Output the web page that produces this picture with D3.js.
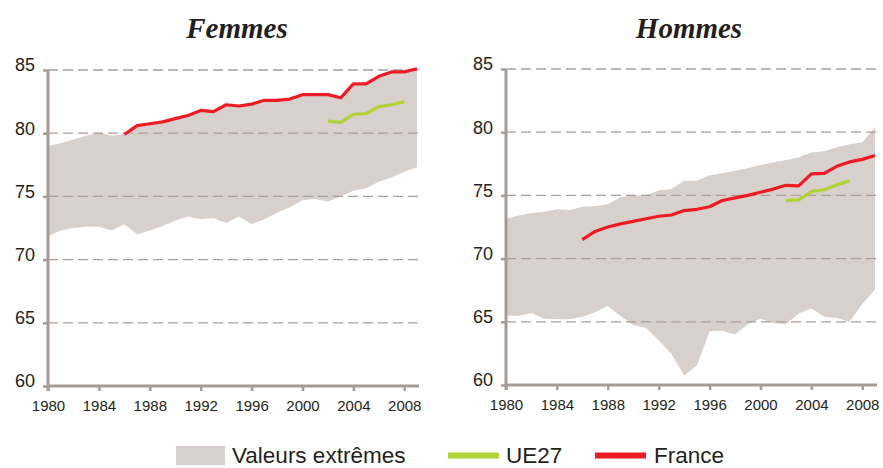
<!DOCTYPE html>
<html><head><meta charset="utf-8">
<script src="https://cdn.jsdelivr.net/npm/d3@7"></script>
<style>body{margin:0;background:#fff}svg{display:block}</style>
</head><body>
<svg id="c" width="883" height="468"></svg>
<script>
const years = [1980,1981,1982,1983,1984,1985,1986,1987,1988,1989,1990,1991,1992,1993,1994,1995,1996,1997,1998,1999,2000,2001,2002,2003,2004,2005,2006,2007,2008,2009];
const franceYears = years.slice(6);            // 1986-2009
const ueYearsF = [2002,2003,2004,2005,2006,2007,2008];
const ueYearsH = [2002,2003,2004,2005,2006,2007];
const xTicks = [1980,1984,1988,1992,1996,2000,2004,2008];
const yTicks = [60,65,70,75,80,85];

const femmesMax = [79.0,79.2,79.5,79.8,80.05,79.8,79.95,80.6,80.75,80.9,81.15,81.4,81.8,81.7,82.25,82.15,82.3,82.6,82.6,82.7,83.05,83.05,83.05,82.8,83.9,83.9,84.5,84.85,84.85,85.1];
const femmesMin = [71.85,72.3,72.5,72.6,72.6,72.3,72.8,72.0,72.3,72.65,73.1,73.4,73.2,73.3,72.9,73.4,72.8,73.2,73.7,74.15,74.7,74.8,74.6,75.0,75.45,75.65,76.15,76.5,76.95,77.3];
const franceF = [79.9,80.6,80.75,80.9,81.15,81.4,81.8,81.7,82.25,82.15,82.3,82.6,82.6,82.7,83.05,83.05,83.05,82.8,83.9,83.9,84.5,84.85,84.85,85.1];
const ue27F = [80.95,80.85,81.5,81.55,82.1,82.25,82.5];

const hommesMax = [73.13,73.4,73.6,73.7,73.9,73.85,74.1,74.15,74.3,74.85,75.0,75.0,75.4,75.5,76.15,76.15,76.6,76.75,76.95,77.15,77.4,77.6,77.8,78.0,78.4,78.5,78.8,79.05,79.2,80.4];
const hommesMin = [65.5,65.45,65.7,65.25,65.2,65.2,65.4,65.75,66.25,65.45,64.75,64.5,63.55,62.45,60.75,61.55,64.25,64.3,64.0,64.8,65.25,64.9,64.8,65.65,66.05,65.4,65.3,65.0,66.4,67.55];
const franceH = [71.5,72.15,72.5,72.75,72.95,73.15,73.35,73.45,73.8,73.9,74.1,74.6,74.8,75.0,75.25,75.5,75.8,75.75,76.7,76.75,77.3,77.65,77.85,78.15];
const ue27H = [74.6,74.65,75.3,75.45,75.85,76.15];

const C = {band:"#d8d0cd", red:"#ed1c24", green:"#b2d235", axis:"#a59c98", grid:"#a89e9a", text:"#231f20"};
const svg = d3.select("#c");
const sans = "'Liberation Sans', Arial, sans-serif";

function panel(title, titleX, x0, x1, yTop, yBot, mx, mn, fr, ue, ueYears){
  const x = d3.scaleLinear().domain([1980,2009]).range([x0,x1]);
  const y = d3.scaleLinear().domain([60,85]).range([yBot,yTop]);
  const g = svg.append("g");
  const area = d3.area().x((d,i)=>x(years[i])).y0((d,i)=>y(mn[i])).y1(d=>y(d));
  g.append("path").datum(mx).attr("d",area).attr("fill",C.band);
  // grid
  g.selectAll(".gl").data(yTicks.filter(v=>v>60)).join("line")
    .attr("x1",x0).attr("x2",x1+3).attr("y1",d=>y(d)).attr("y2",d=>y(d))
    .attr("stroke",C.grid).attr("stroke-width",1.3).attr("stroke-dasharray","10,5");
  // axes
  const yAx = d3.axisLeft(y).tickValues(yTicks).tickSize(5).tickFormat(d3.format("d"));
  const yg = g.append("g").attr("transform",`translate(${x0},0)`).call(yAx);
  yg.select(".domain").attr("stroke",C.axis).attr("stroke-width",3).attr("d",`M0,${yTop}V${yBot+5}`);
  yg.selectAll(".tick line").attr("stroke",C.axis).attr("stroke-width",2.5);
  yg.selectAll(".tick text").attr("font-family",sans).attr("font-size",18).attr("fill",C.text)
    .attr("x",-13).attr("dy","0.05em");
  const xAx = d3.axisBottom(x).tickValues(xTicks).tickSize(5).tickFormat(d3.format("d"));
  const xg = g.append("g").attr("transform",`translate(0,${yBot})`).call(xAx);
  xg.select(".domain").attr("stroke",C.axis).attr("stroke-width",3).attr("d",`M${x0},0H${x1+2}`);
  xg.selectAll(".tick line").attr("stroke",C.axis).attr("stroke-width",2.5);
  xg.selectAll(".tick text").attr("font-family",sans).attr("font-size",15).attr("fill",C.text)
    .attr("y",14).attr("dy","0.71em");
  // lines
  const line = (ys)=>d3.line().x((d,i)=>x(ys[i])).y(d=>y(d));
  g.append("path").datum(ue).attr("d",line(ueYears)).attr("fill","none")
    .attr("stroke",C.green).attr("stroke-width",3.2).attr("stroke-linejoin","round");
  g.append("path").datum(fr).attr("d",line(franceYears)).attr("fill","none")
    .attr("stroke",C.red).attr("stroke-width",3.2).attr("stroke-linejoin","round");
  svg.append("text").attr("x",titleX).attr("y",38).attr("text-anchor","middle")
    .attr("font-family","'Liberation Serif','Times New Roman',serif").attr("font-style","italic")
    .attr("font-weight","bold").attr("font-size",29).attr("fill",C.text).text(title);
}
panel("Femmes", 237, 48, 417, 70, 386, femmesMax, femmesMin, franceF, ue27F, ueYearsF);
panel("Hommes", 689, 506, 875, 69, 385, hommesMax, hommesMin, franceH, ue27H, ueYearsH);

// legend
const leg = svg.append("g");
const legItems = [
  {label:"Valeurs extrêmes", type:"rect", color:C.band, x:176, tx:232},
  {label:"UE27", type:"line", color:C.green, x:448, tx:506},
  {label:"France", type:"line", color:C.red, x:595, tx:654}
];
legItems.forEach(it=>{
  if(it.type==="rect") leg.append("rect").attr("x",it.x).attr("y",446).attr("width",49).attr("height",19).attr("fill",it.color);
  else leg.append("line").attr("x1",it.x).attr("x2",it.x+51).attr("y1",455.5).attr("y2",455.5).attr("stroke",it.color).attr("stroke-width",6);
  leg.append("text").attr("x",it.tx).attr("y",463).attr("font-family",sans).attr("font-size",22.5)
    .attr("fill",C.text).text(it.label);
});
</script>
</body></html>
